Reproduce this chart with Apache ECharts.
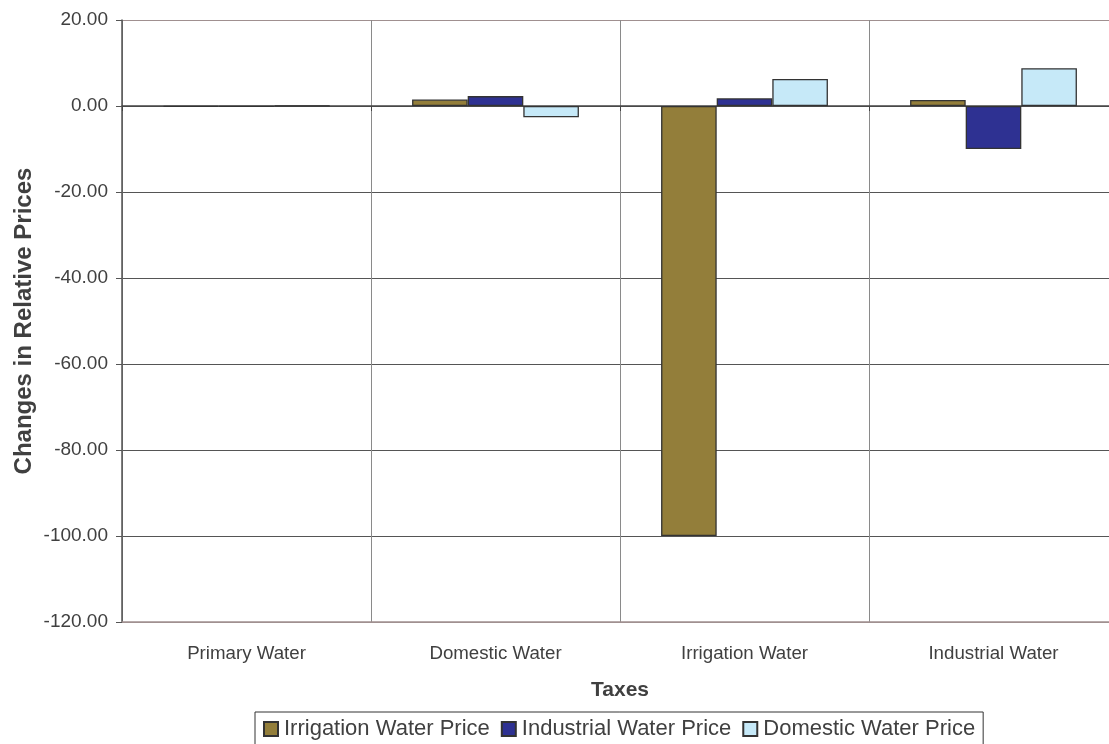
<!DOCTYPE html>
<html>
<head>
<meta charset="utf-8">
<script src="https://cdn.jsdelivr.net/npm/echarts@6/dist/echarts.min.js"></script>
<style>
html,body{margin:0;padding:0;background:#fff;overflow:hidden;}
#c{width:1118px;height:744px;}
</style>
</head>
<body>
<div id="c"></div>
<script>
var categories = ['Primary Water', 'Domestic Water', 'Irrigation Water', 'Industrial Water'];
var irrigationPrice = [-0.2, 1.5, -100.0, 1.4];
var industrialPrice = [-0.2, 2.3, 1.8, -10.0];
var domesticPrice = [0.1, -2.6, 6.3, 8.8];
var seriesNames = ['Irrigation Water Price', 'Industrial Water Price', 'Domestic Water Price'];
var yTicks = { min: -120, max: 20, interval: 20 };

var FONT = '"Liberation Sans", Arial, sans-serif';
var TXT = '#404040';

function barSeries(name, data, color) {
  return {
    name: name, type: 'bar', data: data,
    barGap: '0%', barCategoryGap: '33%',
    itemStyle: { color: color, borderColor: '#333333', borderWidth: 1.3 }
  };
}

var chart = echarts.init(document.getElementById('c'), null, { renderer: 'canvas', width: 1118, height: 744 });
chart.setOption({
  animation: false,
  backgroundColor: '#ffffff',
  textStyle: { fontFamily: FONT },
  grid: { left: 122, top: 20, width: 996, height: 602, containLabel: false },
  xAxis: [
    {
      type: 'category', data: categories, position: 'bottom',
      axisLine: { onZero: false, lineStyle: { color: '#a09090', width: 1.5 } },
      axisTick: { show: false },
      axisLabel: { fontSize: 18.7, color: TXT, margin: 22, fontFamily: FONT },
      splitLine: { show: true, lineStyle: { color: '#8a8a8a', width: 1 } }
    },
    {
      type: 'category', data: categories, position: 'top',
      axisLine: { onZero: true, lineStyle: { color: '#444444', width: 1.5 } },
      axisTick: { show: true, inside: true, length: 5, lineStyle: { color: '#444444' } },
      axisLabel: { show: false },
      splitLine: { show: false }
    }
  ],
  yAxis: {
    type: 'value', min: yTicks.min, max: yTicks.max, interval: yTicks.interval,
    axisLine: { show: true, lineStyle: { color: '#555555', width: 1.5 } },
    axisTick: { show: true, length: 6, lineStyle: { color: '#555555' } },
    axisLabel: {
      fontSize: 19, color: TXT, margin: 14, fontFamily: FONT,
      formatter: function (v) { return v.toFixed(2); }
    },
    splitLine: {
      show: true,
      lineStyle: { color: ['#a09090', '#555555', '#555555', '#555555', '#555555', '#555555', '#555555', '#a09090'], width: 1 }
    }
  },
  legend: {
    left: 255, top: 712,
    padding: [6, 8, 8, 8],
    itemGap: 11, itemWidth: 14, itemHeight: 14,
    icon: 'rect',
    borderColor: '#333333', borderWidth: 1,
    textStyle: { fontSize: 22, color: TXT, fontFamily: FONT, padding: [0, 0, 0, 1] },
    data: seriesNames
  },
  graphic: [
    {
      type: 'text', x: 24, y: 321, rotation: Math.PI / 2,
      style: { text: 'Changes in Relative Prices', font: 'bold 24px ' + FONT, fill: TXT, align: 'center', verticalAlign: 'middle' }
    },
    {
      type: 'text', x: 620, y: 690,
      style: { text: 'Taxes', font: 'bold 21px ' + FONT, fill: TXT, align: 'center', verticalAlign: 'middle' }
    }
  ],
  series: [
    barSeries(seriesNames[0], irrigationPrice, '#937e3a'),
    barSeries(seriesNames[1], industrialPrice, '#2e3192'),
    barSeries(seriesNames[2], domesticPrice, '#c6e9f8')
  ]
});
</script>
</body>
</html>
